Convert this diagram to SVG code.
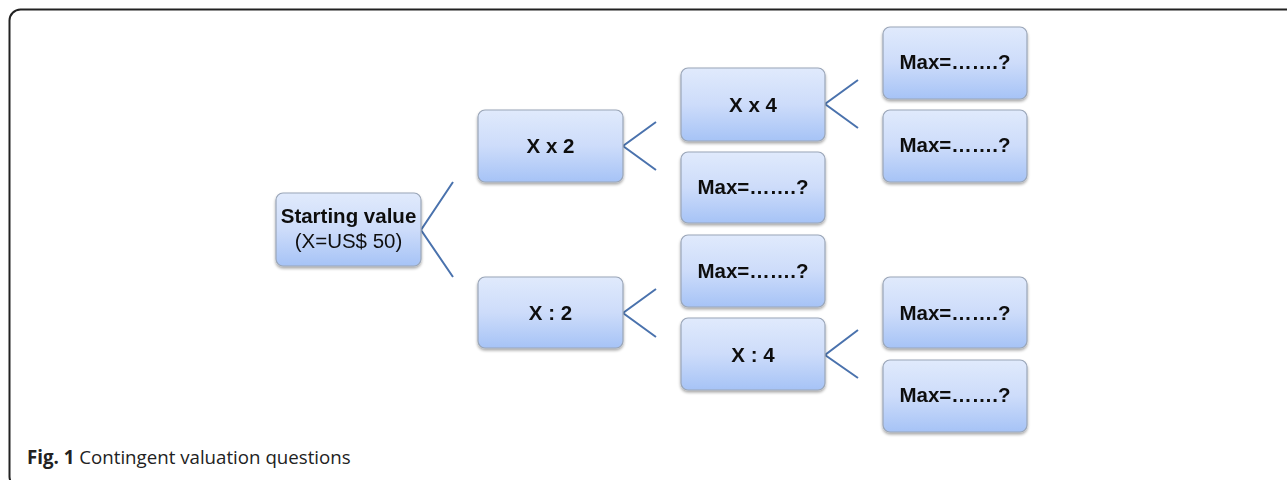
<svg xmlns="http://www.w3.org/2000/svg" width="1287" height="480" viewBox="0 0 1287 480">
<style>
.box{fill:url(#g);stroke:#9aa6b8;stroke-width:1.2}
.t{font-family:"Liberation Sans",Arial,sans-serif;font-size:20.5px;font-weight:bold;fill:#111;text-anchor:middle}
.r{font-weight:normal}
.c{fill:none;stroke:#4a72ad;stroke-width:2}
.cap{font-family:"Open Sans","Liberation Sans",Arial,sans-serif;font-size:18.7px;fill:#222}
</style>
<defs>
<linearGradient id="g" x1="0" y1="0" x2="0" y2="1">
<stop offset="0" stop-color="#e0eafc"/>
<stop offset="0.5" stop-color="#cddcfa"/>
<stop offset="1" stop-color="#a6c3f6"/>
</linearGradient>
<filter id="sh" x="-10%" y="-10%" width="120%" height="130%">
<feGaussianBlur in="SourceAlpha" stdDeviation="1.5"/>
<feOffset dx="0" dy="2" result="b"/>
<feComponentTransfer><feFuncA type="linear" slope="0.35"/></feComponentTransfer>
<feMerge><feMergeNode/><feMergeNode in="SourceGraphic"/></feMerge>
</filter>
</defs>
<rect x="9.5" y="9.5" width="1300" height="478" rx="11" fill="#fff" stroke="#222" stroke-width="2"/>
<g id="connectors">
<polyline class="c" points="453,182 421,230 453,277"/>
<polyline class="c" points="656,122 623,146 656,170"/>
<polyline class="c" points="858,80 825,104 858,128"/>
<polyline class="c" points="656,289 623,313 656,337"/>
<polyline class="c" points="858,330 825,355 858,378"/>
</g>
<g id="start" filter="url(#sh)">
<rect class="box" x="276" y="193" width="145" height="73" rx="7"/>
<text class="t" x="348.5" y="223">Starting value</text>
<text class="t r" x="348.5" y="248">(X=US$ 50)</text>
</g>
<g id="xx2" filter="url(#sh)">
<rect class="box" x="478" y="110" width="145" height="72" rx="7"/>
<text class="t" x="550.5" y="153">X x 2</text>
</g>
<g id="xd2" filter="url(#sh)">
<rect class="box" x="478" y="277" width="145" height="71" rx="7"/>
<text class="t" x="550.5" y="320">X : 2</text>
</g>
<g id="xx4" filter="url(#sh)">
<rect class="box" x="681" y="68" width="144" height="73" rx="7"/>
<text class="t" x="753" y="112">X x 4</text>
</g>
<g id="max1" filter="url(#sh)">
<rect class="box" x="681" y="152" width="144" height="71" rx="7"/>
<text class="t" x="753" y="194">Max=…….?</text>
</g>
<g id="max2" filter="url(#sh)">
<rect class="box" x="681" y="235" width="144" height="72" rx="7"/>
<text class="t" x="753" y="278">Max=…….?</text>
</g>
<g id="xd4" filter="url(#sh)">
<rect class="box" x="681" y="318" width="144" height="72" rx="7"/>
<text class="t" x="753" y="362">X : 4</text>
</g>
<g id="max3" filter="url(#sh)">
<rect class="box" x="883" y="27" width="144" height="72" rx="7"/>
<text class="t" x="955" y="69">Max=…….?</text>
</g>
<g id="max4" filter="url(#sh)">
<rect class="box" x="883" y="110" width="144" height="72" rx="7"/>
<text class="t" x="955" y="152">Max=…….?</text>
</g>
<g id="max5" filter="url(#sh)">
<rect class="box" x="883" y="277" width="144" height="71" rx="7"/>
<text class="t" x="955" y="320">Max=…….?</text>
</g>
<g id="max6" filter="url(#sh)">
<rect class="box" x="883" y="360" width="144" height="72" rx="7"/>
<text class="t" x="955" y="402">Max=…….?</text>
</g>
<text class="cap" x="27" y="464"><tspan font-weight="bold">Fig. 1</tspan> Contingent valuation questions</text>
</svg>
